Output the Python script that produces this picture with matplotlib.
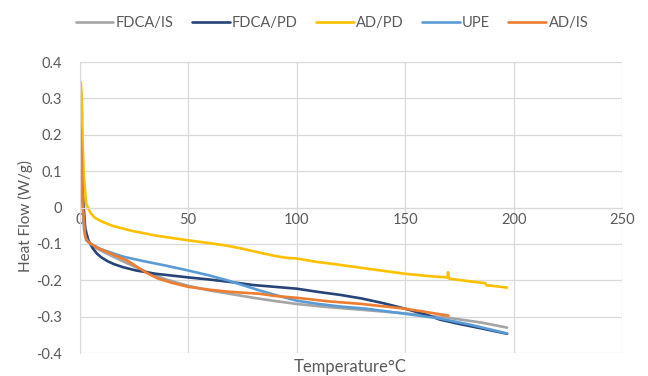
import matplotlib.pyplot as plt

# DSC curves
fdca_is_x = [0.3, 0.8, 1.5, 2.5, 4, 7, 12, 20, 30, 40, 50, 60, 70, 80, 90, 100, 115, 130, 150, 170, 185, 197]
fdca_is_y = [0.28, 0.2, 0.05, -0.05, -0.095, -0.11, -0.125, -0.148, -0.175, -0.198, -0.215, -0.228, -0.238,
             -0.248, -0.257, -0.265, -0.274, -0.281, -0.291, -0.303, -0.316, -0.33]

fdca_pd_x = [0.3, 0.8, 1.5, 2.5, 4, 6, 8, 10, 13, 16, 20, 26, 35, 50, 60, 70, 80, 90, 100, 110, 120, 130, 140,
             150, 160, 166, 175, 185, 197]
fdca_pd_y = [0.27, 0.18, 0.02, -0.06, -0.09, -0.112, -0.127, -0.137, -0.148, -0.156, -0.164, -0.173, -0.182,
             -0.192, -0.198, -0.205, -0.213, -0.218, -0.223, -0.232, -0.24, -0.25, -0.263, -0.278, -0.295,
             -0.308, -0.32, -0.332, -0.347]

ad_pd_x = [0.5, 1, 1.5, 2, 3, 5, 7, 10, 15, 24, 35, 50, 60, 68, 75, 83, 90, 95, 100, 110, 117, 130, 140,
           150, 160, 169.5, 169.8, 170.2, 171, 180, 187, 187.5, 190, 197]
ad_pd_y = [0.345, 0.3, 0.15, 0.08, 0.01, -0.015, -0.028, -0.038, -0.05, -0.064, -0.077, -0.09, -0.098,
           -0.105, -0.113, -0.124, -0.133, -0.138, -0.14, -0.15, -0.155, -0.166, -0.174, -0.182, -0.188,
           -0.192, -0.178, -0.195, -0.196, -0.203, -0.208, -0.214, -0.215, -0.22]

upe_x = [0.3, 1, 2, 3, 5, 10, 20, 30, 40, 50, 60, 68, 75, 83, 90, 100, 110, 120, 132, 150, 166, 180, 197]
upe_y = [0.15, 0.05, -0.06, -0.09, -0.1, -0.115, -0.135, -0.148, -0.16, -0.173, -0.187, -0.2, -0.213,
         -0.228, -0.24, -0.256, -0.265, -0.272, -0.278, -0.292, -0.305, -0.322, -0.346]

ad_is_x = [0.3, 0.8, 1.5, 2.5, 4, 8, 15, 22, 27, 31, 36, 42, 50, 60, 68, 75, 83, 90, 100, 115, 130, 150, 170]
ad_is_y = [0.21, 0.15, 0.0, -0.08, -0.095, -0.11, -0.128, -0.146, -0.165, -0.18, -0.195, -0.206, -0.218,
           -0.226, -0.231, -0.234, -0.237, -0.243, -0.248, -0.258, -0.265, -0.278, -0.297]

series = [
    ("FDCA/IS", fdca_is_x, fdca_is_y, "#a5a5a5"),
    ("FDCA/PD", fdca_pd_x, fdca_pd_y, "#264478"),
    ("AD/PD", ad_pd_x, ad_pd_y, "#ffc000"),
    ("UPE", upe_x, upe_y, "#5b9bd5"),
    ("AD/IS", ad_is_x, ad_is_y, "#ed7d31"),
]

x_ticks = [0, 50, 100, 150, 200, 250]
y_ticks = [-0.4, -0.3, -0.2, -0.1, 0, 0.1, 0.2, 0.3, 0.4]
y_labels = ["-0.4", "-0.3", "-0.2", "-0.1", "0", "0.1", "0.2", "0.3", "0.4"]

plt.rcParams['font.family'] = ['Lato', 'DejaVu Sans']
txt = "#595959"
grid = "#d9d9d9"

fig = plt.figure(figsize=(6.48, 3.76), dpi=100)
ax = fig.add_axes([0.123, 0.061, 0.837, 0.774])

for name, xs, ys, c in series:
    ax.plot(xs, ys, color=c, lw=1.9, label=name, solid_capstyle="round")

ax.set_xlim(0, 250)
ax.set_ylim(-0.4, 0.4)
ax.set_xticks(x_ticks)
ax.set_yticks(y_ticks)
ax.set_yticklabels(y_labels)
ax.grid(True, color=grid, lw=0.9)
ax.set_axisbelow(True)

for s in ["top", "right"]:
    ax.spines[s].set_visible(False)
ax.spines["bottom"].set_position(("data", 0))
ax.spines["bottom"].set_color(grid)
ax.spines["left"].set_color(grid)
ax.tick_params(length=0, colors=txt, labelsize=10.5)
ax.tick_params(axis="x", pad=4)
ax.tick_params(axis="y", pad=13)

fig.text(0.039, 0.426, "Heat Flow (W/g)", rotation=90, ha="center", va="center", color=txt, fontsize=11)
fig.text(0.54, 0.024, "Temperature°C", ha="center", va="center", color=txt, fontsize=12)

leg = ax.legend(loc="center", bbox_to_anchor=(0.465, 1.134), ncol=5, frameon=False, fontsize=10.5,
                handlelength=2.6, columnspacing=1.25, handletextpad=0.15)
for t in leg.get_texts():
    t.set_color(txt)

fig.savefig("out.png", dpi=100)
